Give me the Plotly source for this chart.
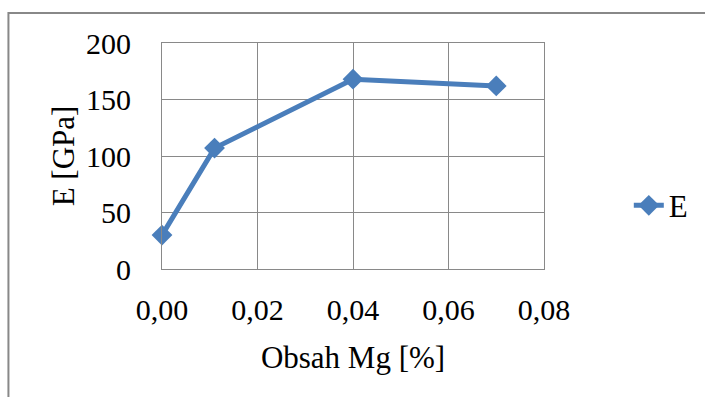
import plotly.graph_objects as go

# Young's modulus vs. magnesium content
mg_content = [0.0, 0.011, 0.04, 0.07]
modulus_gpa = [30, 107, 168, 162]
series_name = "E"

x_ticks = [0.0, 0.02, 0.04, 0.06, 0.08]
y_ticks = [0, 50, 100, 150, 200]

BLUE = "#4a7ebb"
GRID = "#898989"
FONT = "Liberation Serif, Times New Roman, serif"

fig = go.Figure()
fig.add_trace(go.Scatter(
    x=mg_content,
    y=modulus_gpa,
    name=series_name,
    mode="lines+markers",
    line=dict(color=BLUE, width=5),
    marker=dict(symbol="diamond", size=16, color=BLUE),
    cliponaxis=False,
))

axis_common = dict(
    showgrid=True,
    gridcolor=GRID,
    gridwidth=1,
    showline=True,
    linecolor=GRID,
    linewidth=1,
    mirror=True,
    zeroline=False,
    ticks="",
    tickfont=dict(family=FONT, size=30, color="black"),
)

fig.update_xaxes(
    range=[0, 0.08],
    tickvals=x_ticks,
    tickformat=".2f",
    ticklabelstandoff=14,
    title=dict(text="Obsah Mg [%]", font=dict(family=FONT, size=31, color="black"), standoff=21),
    **axis_common,
)
fig.update_yaxes(
    range=[0, 200],
    tickvals=y_ticks,
    ticklabelstandoff=24,
    title=dict(text="E [GPa]", font=dict(family=FONT, size=31, color="black"), standoff=2),
    **axis_common,
)

# outer chart-area frame
fig.add_shape(
    type="rect", xref="paper", yref="paper",
    x0=-0.402, x1=1.5, y0=-0.7, y1=1.133,
    line=dict(color="#888888", width=2),
    fillcolor="rgba(0,0,0,0)",
    layer="below",
)

fig.update_layout(
    width=705,
    height=397,
    margin=dict(l=162, r=161, t=43, b=128),
    paper_bgcolor="white",
    plot_bgcolor="white",
    font=dict(family=FONT, color="black"),
    separators=", ",
    showlegend=True,
    legend=dict(
        x=1.222, y=0.28, xanchor="left", yanchor="middle",
        font=dict(family=FONT, size=31, color="black"),
        bgcolor="rgba(0,0,0,0)",
        itemwidth=30,
    ),
)

fig.write_html("out.html")
